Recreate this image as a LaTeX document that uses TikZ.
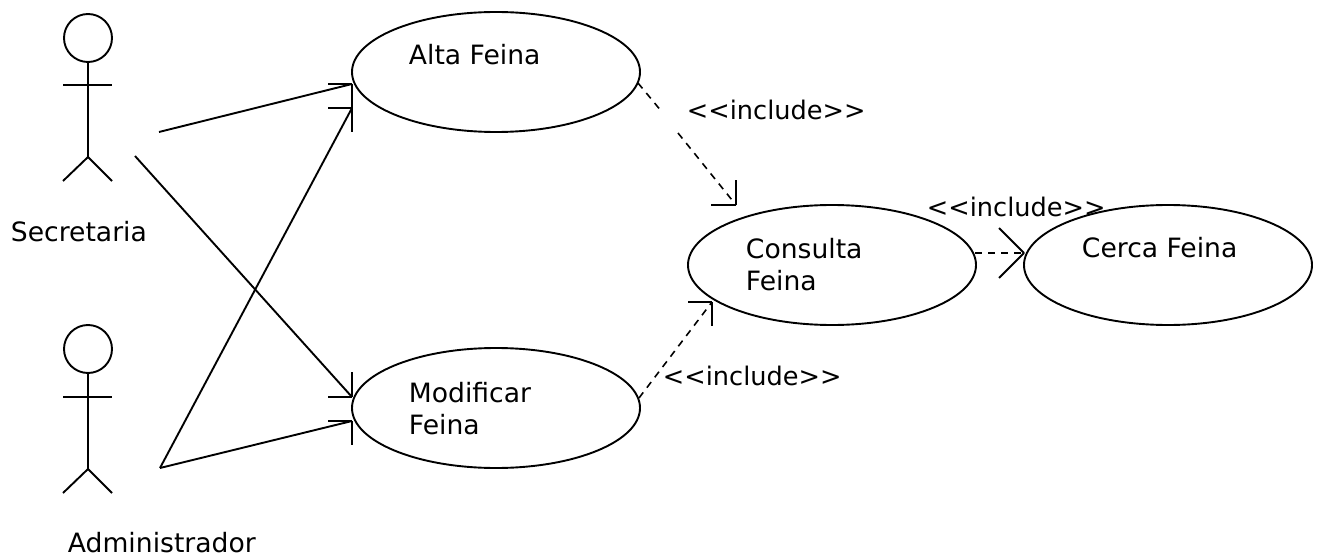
\documentclass[tikz,border=0pt]{standalone}
\usepackage{fontspec}
\setmainfont{DejaVu Sans}
\usetikzlibrary{shapes.geometric}
\tikzset{
    usecase/.style={draw, ellipse, minimum width=288pt, minimum height=120pt, inner sep=0pt, outer sep=0pt},
    actorhead/.style={draw, circle, minimum size=48pt, inner sep=0pt, outer sep=0pt},
    txt/.style={anchor=base west, inner sep=0pt, align=left, font=\fontsize{26.6}{32}\selectfont},
    includetxt/.style={txt, font=\fontsize{25.6}{32}\selectfont},
    solidline/.style={line width=1.9pt},
    dashline/.style={line width=1.6pt, dash pattern=on 7pt off 6pt}
}
\newcommand{\openhead}[3]{\draw[solidline] (#1) -- ++(#2) (#1) -- ++(#3);}
\begin{document}
\begin{tikzpicture}[x=1pt, y=-1pt, line width=1.9pt]
    \useasboundingbox (0,0) rectangle (1319,556);
    % use cases
    \node[usecase] (alta) at (496,72) {};
    \node[usecase] (modificar) at (496,408) {};
    \node[usecase] (consulta) at (832,265) {};
    \node[usecase] (cerca) at (1168,265) {};
    \node[txt] (altatxt) at (408,65) {Alta Feina};
    \node[txt] (modificartxt) at (408,434) {Modificar\\Feina};
    \node[txt] (consultatxt) at (745,290) {Consulta\\Feina};
    \node[txt] (cercatxt) at (1081,257) {Cerca Feina};
    % actors
    \node[actorhead] (sechead) at (88,38) {};
    \coordinate (sechip) at (88,157);
    \draw[solidline] (sechead) -- (sechip);
    \draw[solidline] (63,85) -- (112,85);
    \draw[solidline] (63,181) -- (sechip) -- (112,181);
    \node[txt] (secretaria) at (10,241) {Secretaria};
    \node[actorhead] (adminhead) at (88,349) {};
    \coordinate (adminhip) at (88,469);
    \draw[solidline] (adminhead) -- (adminhip);
    \draw[solidline] (63,397) -- (112,397);
    \draw[solidline] (63,493) -- (adminhip) -- (112,493);
    \node[txt] (administrador) at (67,552) {Administrador};
    % connector ends
    \coordinate (secfrom) at (159,132);
    \coordinate (secfromb) at (135,156);
    \coordinate (adminfrom) at (160,468);
    \coordinate (altaa) at (352,84);
    \coordinate (altab) at (352,108);
    \coordinate (modifa) at (352,397);
    \coordinate (modifb) at (352,421);
    \coordinate (altaout) at (638,83);
    \coordinate (gapa) at (662,112);
    \coordinate (gapb) at (678,133);
    \coordinate (consultaa) at (736,205);
    \coordinate (modifout) at (639,398);
    \coordinate (consultab) at (712,302);
    \coordinate (consultaout) at (975,253);
    \coordinate (cercain) at (1024,253);
    % connectors
    \draw[solidline] (secfrom) -- (altaa);
    \draw[solidline] (secfromb) -- (modifa);
    \draw[solidline] (adminfrom) -- (altab);
    \draw[solidline] (adminfrom) -- (modifb);
    \openhead{altaa}{-24,0}{0,24}
    \openhead{altab}{-24,0}{0,24}
    \openhead{modifa}{-24,0}{0,-25}
    \openhead{modifb}{-24,0}{0,24}
    \draw[dashline] (altaout) -- (gapa);
    \draw[dashline] (gapb) -- (consultaa);
    \draw[dashline] (modifout) -- (consultab);
    \draw[dashline] (consultaout) -- (cercain);
    \openhead{consultaa}{-25,0}{0,-25}
    \openhead{consultab}{-24,0}{0,24}
    \openhead{cercain}{-25,-25}{-25,25}
    % labels
    \node[includetxt] (includea) at (686,120) {<{}<include>{}>};
    \node[includetxt] (includeb) at (926,216) {<{}<include>{}>};
    \node[includetxt] (includec) at (662,385) {<{}<include>{}>};
\end{tikzpicture}
\end{document}
